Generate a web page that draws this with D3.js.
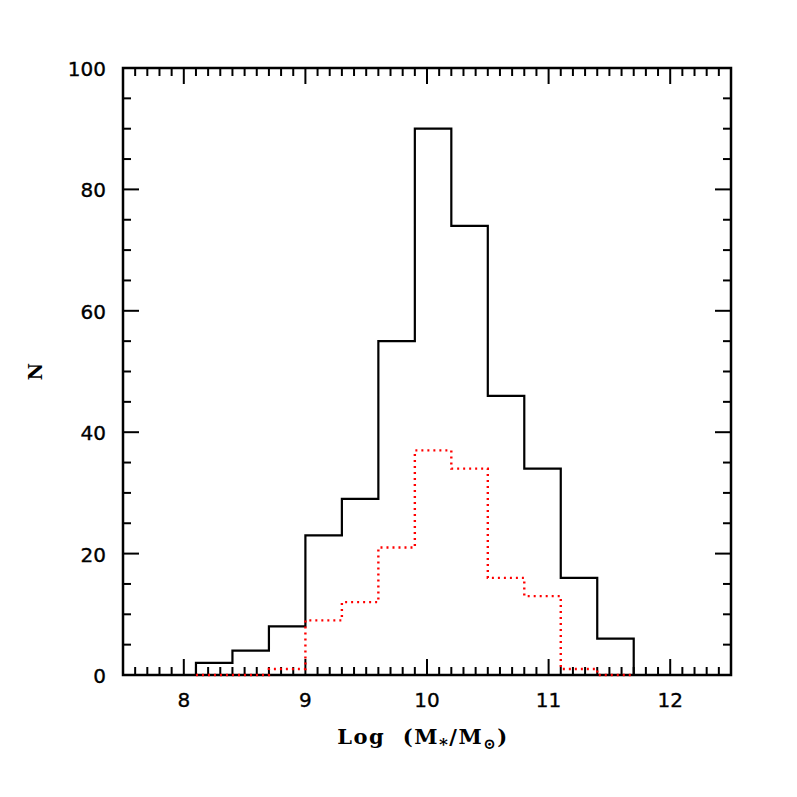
<!DOCTYPE html>
<meta charset="utf-8">
<style>
body { margin: 0; background: #fff; }
.tick-label { font-family: "DejaVu Sans", sans-serif; font-size: 20px; stroke: #000; stroke-width: 0.35px; }
.axis-title { font-family: "DejaVu Serif", serif; font-size: 21px; font-weight: bold; }
</style>
<svg width="797" height="797"></svg>
<script src="https://cdn.jsdelivr.net/npm/d3@7"></script>
<script>

// bin edges (log mass) and counts
var binEdges = [8.1, 8.4, 8.7, 9.0, 9.3, 9.6, 9.9, 10.2, 10.5, 10.8, 11.1, 11.4, 11.7];
var allCounts = [2, 4, 8, 23, 29, 55, 90, 74, 46, 34, 16, 6];
var subCounts = [0, 0, 1, 9, 12, 21, 37, 34, 16, 13, 1, 0];
var xTicks = [8, 9, 10, 11, 12];
var yTicks = [0, 20, 40, 60, 80, 100];

var svg = d3.select("svg"),
    margin = {top: 68, right: 66, bottom: 122, left: 123},
    w = 797 - margin.left - margin.right,
    h = 797 - margin.top - margin.bottom;

var x = d3.scaleLinear().domain([7.5, 12.5]).range([0, w]),
    y = d3.scaleLinear().domain([0, 100]).range([h, 0]);

var g = svg.append("g").attr("transform", "translate(" + margin.left + "," + margin.top + ")");

// step outline of a histogram
function steps(counts) {
  var pts = [[binEdges[0], 0]];
  counts.forEach(function(c, i) {
    pts.push([binEdges[i], c]);
    pts.push([binEdges[i + 1], c]);
  });
  pts.push([binEdges[binEdges.length - 1], 0]);
  return d3.line().x(function(d) { return x(d[0]); }).y(function(d) { return y(d[1]); })(pts);
}

// ticks on all four sides
var xMinor = d3.range(76, 125).map(function(d) { return d / 10; });
var yMinor = d3.range(5, 100, 5);

xMinor.forEach(function(v) {
  var major = Math.abs(v - Math.round(v)) < 1e-6;
  var len = major ? 16 : 8;
  g.append("line").attr("x1", x(v)).attr("x2", x(v)).attr("y1", h).attr("y2", h - len)
    .attr("stroke", "#000").attr("stroke-width", 2);
  g.append("line").attr("x1", x(v)).attr("x2", x(v)).attr("y1", 0).attr("y2", len)
    .attr("stroke", "#000").attr("stroke-width", 2);
});

yMinor.forEach(function(v) {
  var len = v % 20 === 0 ? 16 : 8;
  g.append("line").attr("x1", 0).attr("x2", len).attr("y1", y(v)).attr("y2", y(v))
    .attr("stroke", "#000").attr("stroke-width", 2);
  g.append("line").attr("x1", w).attr("x2", w - len).attr("y1", y(v)).attr("y2", y(v))
    .attr("stroke", "#000").attr("stroke-width", 2);
});

// frame
g.append("rect").attr("width", w).attr("height", h)
  .attr("fill", "none").attr("stroke", "#000").attr("stroke-width", 2.5);

// histograms drawn over the frame
g.append("path")
  .attr("d", steps(allCounts))
  .attr("fill", "none")
  .attr("stroke", "#000")
  .attr("stroke-width", 2.2);

g.append("path")
  .attr("d", steps(subCounts))
  .attr("fill", "none")
  .attr("stroke", "#ff0000")
  .attr("stroke-width", 2.4)
  .attr("stroke-dasharray", "2,4");

// tick labels
g.selectAll(".xl").data(xTicks).enter().append("text")
  .attr("class", "tick-label")
  .attr("x", function(d) { return x(d); })
  .attr("y", h + 32)
  .attr("text-anchor", "middle")
  .text(function(d) { return d; });

g.selectAll(".yl").data(yTicks).enter().append("text")
  .attr("class", "tick-label")
  .attr("x", -17)
  .attr("y", function(d) { return y(d) + 8; })
  .attr("text-anchor", "end")
  .text(function(d) { return d; });

// axis titles
var xt = g.append("text")
  .attr("class", "axis-title")
  .attr("x", w / 2 - 4)
  .attr("y", h + 69)
  .attr("text-anchor", "middle")
  .style("letter-spacing", "1.5px");
xt.append("tspan").text("Log\u00a0 (M");
xt.append("tspan").attr("dy", 6).style("font-size", "17px").text("*");
xt.append("tspan").attr("dy", -6).text("/M");
xt.append("tspan").attr("dy", 5).style("font-size", "15px").text("\u2299");
xt.append("tspan").attr("dy", -5).text(")");

g.append("text")
  .attr("class", "axis-title")
  .attr("transform", "translate(" + (-81) + "," + (h / 2) + ") rotate(-90)")
  .attr("text-anchor", "middle")
  .style("font-size", "19px")
  .text("N");

</script>
